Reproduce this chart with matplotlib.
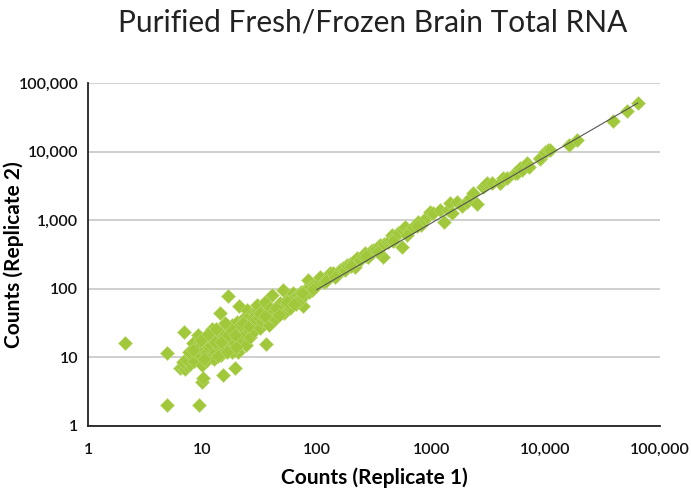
import numpy as np
import matplotlib.pyplot as plt
from matplotlib.ticker import FixedLocator, FixedFormatter, NullLocator

# Tellinger lest av figuren (replikat 1 -> x, replikat 2 -> y)
rep1 = [
    # utliggere ved lave tellinger
    2.1, 4.9, 4.9, 9.3, 9.9, 10.1, 15.1, 19.3, 20.5, 6.9, 9.2, 14.3, 16.7, 21, 36, 76,
    # tett klynge 6-30
    6.4, 6.6, 7.0, 7.3, 6.8, 7.8, 7.2, 8.0, 8.5, 9.0, 9.5, 9.9, 8.3, 8.8, 9.6, 10.2,
    10.5, 11, 11, 11.5, 12, 12, 12.5, 13, 13, 13.5, 14, 14, 14.5, 15, 15, 15.5,
    16, 16, 17, 17, 17.5, 18, 18, 18.5, 19, 19.5, 20, 20, 21, 22, 22, 23,
    23, 24, 24.5, 25, 25, 26, 26, 27, 28, 28, 29, 30, 10.8, 12.6, 13.8, 16.4,
    11.8, 14.8, 17.8, 19.8, 21.5, 24.2, 26.8, 9.8, 12.2, 15.8,
    7.6, 8.2, 10.4, 11.2, 12.8, 13.2, 14.6, 16.8, 18.2, 19.2, 22.5, 25.5, 27.5, 29.5,
    # 30-100
    30, 31, 32, 33, 33, 34, 35, 36, 37, 38, 39, 40, 41, 42, 43, 45,
    46, 48, 50, 51, 52, 54, 56, 58, 60, 62, 64, 66, 68, 70, 71, 73,
    78, 80, 84, 85, 88, 90, 94, 98, 32, 35, 44, 47, 55, 63, 75, 92,
    # 100-1000
    107, 115, 125, 130, 138, 150, 160, 169, 175, 184, 195, 207, 215, 224, 240, 255,
    264, 280, 295, 310, 330, 357, 379, 390, 419, 440, 454, 480, 510, 555, 567, 590,
    640, 700, 767, 820, 870, 920, 977, 120, 145, 200, 270, 345, 460, 620, 750,
    # 1000-10000+
    1040, 1190, 1300, 1400, 1460, 1510, 1680, 1850, 2050, 2180, 2320, 2500, 2840, 2950, 3070, 3400,
    3990, 4000, 4240, 4600, 5400, 5600, 5970, 6200, 6880, 7200, 8900, 8950, 9900, 10500, 11000,
    16000, 18800, 38800, 52000, 64000,
]
rep2 = [
    16.2, 11.6, 2.0, 2.0, 4.4, 5.0, 5.5, 7.0, 11.9, 23.5, 21, 44, 78, 56, 15.7, 56,
    7.0, 7.2, 6.8, 7.6, 8.6, 8.0, 9.5, 10.5, 9.0, 12, 11, 7.7, 16, 14, 14.5, 13,
    16, 12, 18, 14, 10, 15, 20, 12, 17, 22, 14, 19, 11, 16, 25, 13,
    20, 28, 15, 23, 18, 30, 12, 22, 17, 26, 20, 33, 24, 18, 28, 38,
    22, 15, 49, 26, 32, 20, 42, 29, 35, 24, 45, 30, 9.0, 9.5, 10.5, 12,
    20, 24, 25, 14, 30, 36, 33, 18, 26, 32,
    12, 13, 9.5, 22, 17, 26, 17, 21, 25, 21, 32, 29, 38, 36,
    58, 38, 27, 34, 48, 41, 64, 36, 45, 30, 52, 40, 81, 47, 36, 55,
    44, 62, 50, 96, 45, 58, 70, 52, 66, 87, 75, 60, 80, 72, 69, 90,
    82, 100, 134, 90, 105, 95, 115, 110, 44, 40, 52, 42, 64, 60, 88, 100,
    149, 125, 150, 170, 170, 160, 190, 201, 185, 222, 230, 246, 210, 281, 260, 300,
    333, 290, 350, 368, 380, 435, 291, 450, 481, 520, 608, 560, 640, 407, 720, 796,
    700, 800, 942, 860, 1000, 1110, 1320, 130, 150, 215, 300, 340, 500, 600, 820,
    1270, 1410, 950, 1410, 1780, 1270, 1840, 1600, 1840, 2110, 2490, 1700, 3050, 3250, 3480, 3500,
    3480, 3500, 4120, 4100, 4880, 4880, 5770, 5400, 6830, 5970, 7800, 8070, 9900, 10550, 10500,
    12500, 14800, 27900, 39000, 51000,
]

# Trendlinje (endepunkter lest av figuren)
trend_x = [100, 64000]
trend_y = [97, 51000]

x_ticks = [1, 10, 100, 1000, 10000, 100000]
x_labels = ['1', '10', '100', '1000', '10,000', '100,000']
y_ticks = [1, 10, 100, 1000, 10000, 100000]
y_labels = ['1', '10', '100', '1,000', '10,000', '100,000']

plt.rcParams['font.family'] = ['Lato', 'DejaVu Sans']

fig = plt.figure(figsize=(6.91, 4.91), dpi=100)
ax = fig.add_axes([0.1274, 0.1324, 0.8276, 0.6986])

ax.set_xscale('log')
ax.set_yscale('log')
ax.set_xlim(1, 100000)
ax.set_ylim(1, 100000)

ax.plot(rep1, rep2, linestyle='none', marker='D', markersize=7,
        markerfacecolor='#a1c83b', markeredgecolor='#b8d86e', markeredgewidth=0.4, zorder=3)
ax.plot(trend_x, trend_y, color='#555555', linewidth=0.8, zorder=4)

ax.xaxis.set_major_locator(FixedLocator(x_ticks))
ax.xaxis.set_major_formatter(FixedFormatter(x_labels))
ax.yaxis.set_major_locator(FixedLocator(y_ticks))
ax.yaxis.set_major_formatter(FixedFormatter(y_labels))
ax.xaxis.set_minor_locator(NullLocator())
ax.yaxis.set_minor_locator(NullLocator())
ax.tick_params(length=0, labelsize=11.5, pad=12, labelcolor='#111111')
ax.tick_params(axis='y', pad=7)
for lab in ax.get_xticklabels() + ax.get_yticklabels():
    lab.set_fontweight('semibold')

ax.grid(axis='y', color='#cccccc', linewidth=1.3, zorder=0)
ax.set_axisbelow(True)
for s in ['top', 'right']:
    ax.spines[s].set_visible(False)
for s in ['left', 'bottom']:
    ax.spines[s].set_linewidth(1.3)
    ax.spines[s].set_color('#222222')

ax.set_xlabel('Counts (Replicate 1)', fontsize=15, fontweight='bold')
ax.xaxis.set_label_coords(0.5, -0.12)
ax.set_ylabel('Counts (Replicate 2)', fontsize=15, fontweight='bold')
ax.yaxis.set_label_coords(-0.112, 0.5)
fig.text(0.54, 0.955, 'Purified Fresh/Frozen Brain Total RNA', ha='center', va='center',
         fontsize=21.5, color='#222222')

fig.savefig('out.png', dpi=100)
